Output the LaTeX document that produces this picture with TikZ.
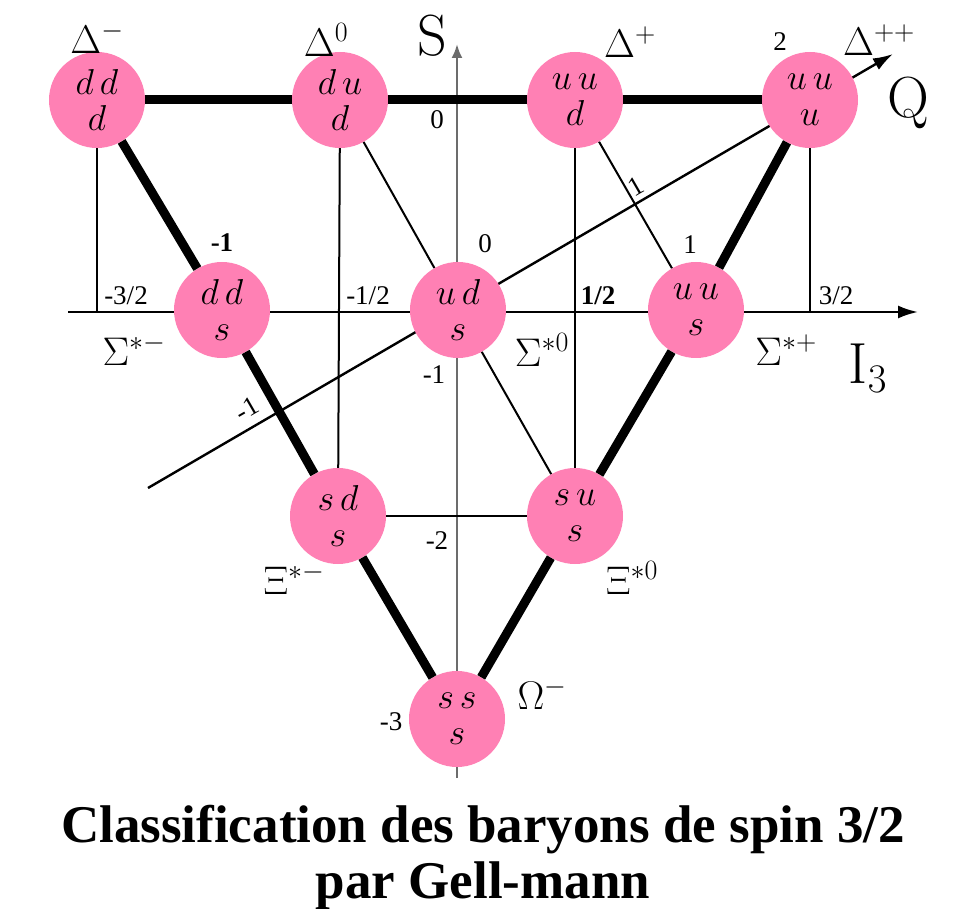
\RequirePackage{fix-cm}
\documentclass[tikz,border=0pt]{standalone}
\usepackage{fontspec}
\newfontfamily\titlefont{Liberation Serif}
\usetikzlibrary{arrows.meta}
\definecolor{baryon}{RGB}{255,128,180}

\begin{document}
\begin{tikzpicture}[x=1pt,y=-1pt,
  quark/.style={circle,fill=baryon,minimum size=96pt,inner sep=0pt,align=center,
    font=\fontsize{36}{36}\selectfont},
  heavy/.style={line width=9pt},
  fine/.style={line width=2pt},
  axis/.style={line width=2.4pt,-{Latex[length=20pt,width=13pt]}},
  tick/.style={font=\titlefont\fontsize{27}{27}\selectfont},
  lab/.style={font=\fontsize{40}{40}\selectfont}]
  \useasboundingbox (0,0) rectangle (964,909);
  % axes S, I3 and Q
  \coordinate (s0) at (457,778);
  \coordinate (s1) at (457,44);
  \coordinate (i0) at (68,312);
  \coordinate (i1) at (918,312);
  \coordinate (q0) at (148,488);
  \coordinate (q1) at (893,54);
  \draw[axis,gray!85!black,-{Latex[length=14pt,width=11pt]}] (s0) -- (s1);
  \draw[axis] (i0) -- (i1);
  \draw[axis] (q0) -- (q1);
  \node[font=\fontsize{58}{58}\selectfont] (slab) at (432,36) {S};
  \node[font=\fontsize{58}{58}\selectfont] (qlab) at (908,103) {Q};
  \node[font=\fontsize{58}{58}\selectfont] (ilab) at (868,368) {I$_3$};
  % the ten baryons
  \foreach \nm/\x/\y/\qa/\qb/\qc in {dm/97/100/d/d/d, dz/340/100/d/u/d,
      dp/575/100/u/u/d, dpp/810/100/u/u/u, sm/222/310/d/d/s, sz/458/310/u/d/s,
      sp/696/310/u/u/s, xm/338/516/s/d/s, xz/575/516/s/u/s, om/457/719/s/s/s} {
    \node[quark] (\nm) at (\x,\y) {$\qa\,\qb$\\$\qc$};
  }
  % multiplet edges
  \draw[heavy] (dm) -- (dz) -- (dp) -- (dpp);
  \draw[heavy] (dm) -- (sm) -- (xm) -- (om);
  \draw[heavy] (dpp) -- (sp) -- (xz) -- (om);
  \draw[fine] (dz) -- (sz) -- (xz);
  \draw[fine] (dp) -- (sp);
  \draw[fine] (dz) -- (xm);
  \draw[fine] (dp) -- (xz);
  \draw[fine] (xm) -- (xz);
  \draw[fine] (dm) -- (dm |- i0);
  \draw[fine] (dpp) -- (dpp |- i0);
  % particle names
  \node[lab] (ldm) at (97,38) {$\Delta^{-}$};
  \node[lab] (ldz) at (326,40) {$\Delta^{0}$};
  \node[lab] (ldp) at (630,42) {$\Delta^{+}$};
  \node[lab] (ldpp) at (879,40) {$\Delta^{++}$};
  \node[lab] (lsm) at (134,350) {$\Sigma^{*-}$};
  \node[lab] (lsz) at (542,350) {$\Sigma^{*0}$};
  \node[lab] (lsp) at (786,350) {$\Sigma^{*+}$};
  \node[lab] (lxm) at (294,579) {$\Xi^{*-}$};
  \node[lab] (lxz) at (632,578) {$\Xi^{*0}$};
  \node[lab] (lom) at (542,694) {$\Omega^{-}$};
  % ticks
  \foreach \x/\t in {126/-3\slash2, 368/-1\slash2, 836/3\slash2}
    \node[tick] at (\x,296) {\t};
  \node[tick,font=\titlefont\bfseries\fontsize{27}{27}\selectfont] at (598,296) {1/2};
  \node[tick] at (437,120) {0};
  \node[tick] at (434,375) {-1};
  \node[tick] at (437,541) {-2};
  \node[tick] at (391,722) {-3};
  \node[tick,font=\titlefont\bfseries\fontsize{27}{27}\selectfont] at (222,243) {-1};
  \node[tick] at (485,244) {0};
  \node[tick] at (690,245) {1};
  \node[tick] at (780,42) {2};
  \node[tick,rotate=30] at (636,186) {1};
  \node[tick,rotate=30] at (247,409) {-1};
  % caption
  \node[font=\titlefont\bfseries\fontsize{53}{56}\selectfont,align=center] (title)
    at (483,857) {Classification des baryons de spin 3/2\\par Gell-mann};
\end{tikzpicture}
\end{document}
